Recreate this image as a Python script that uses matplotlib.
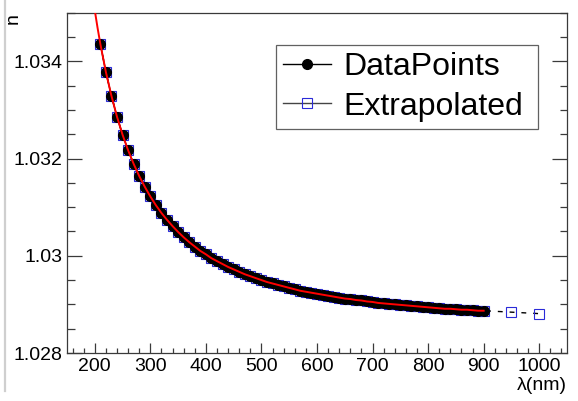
import matplotlib
matplotlib.use("Agg")
import matplotlib.pyplot as plt
from matplotlib.lines import Line2D
from matplotlib.ticker import MultipleLocator, FixedLocator

plt.rcParams['font.family'] = ['Liberation Sans', 'DejaVu Sans']

# --- data ---
wavelength = [210, 220, 230, 240, 250, 260, 270, 280, 290, 300,
              310, 320, 330, 340, 350, 360, 370, 380, 390, 400,
              410, 420, 430, 440, 450, 460, 470, 480, 490, 500,
              510, 520, 530, 540, 550, 560, 570, 580, 590, 600,
              610, 620, 630, 640, 650, 660, 670, 680, 690, 700,
              710, 720, 730, 740, 750, 760, 770, 780, 790, 800,
              810, 820, 830, 840, 850, 860, 870, 880, 890, 900]
index_n = [1.03436, 1.03378, 1.03329, 1.03286, 1.03249, 1.03217, 1.03189, 1.03164, 1.03142, 1.03122,
           1.03104, 1.03088, 1.03074, 1.03061, 1.03049, 1.03038, 1.03028, 1.03019, 1.03010, 1.03003,
           1.02995, 1.02989, 1.02983, 1.02977, 1.02972, 1.02967, 1.02962, 1.02958, 1.02954, 1.02950,
           1.02946, 1.02943, 1.02940, 1.02937, 1.02934, 1.02931, 1.02928, 1.02926, 1.02924, 1.02922,
           1.02920, 1.02918, 1.02916, 1.02914, 1.02912, 1.02911, 1.02909, 1.02908, 1.02906, 1.02905,
           1.02903, 1.02902, 1.02901, 1.02900, 1.02899, 1.02898, 1.02897, 1.02896, 1.02895, 1.02894,
           1.02893, 1.02892, 1.02891, 1.02891, 1.02890, 1.02889, 1.02889, 1.02888, 1.02887, 1.02887]

extra_wl = [950, 1000]
extra_n = [1.02884, 1.02881]

fit_start_wl = [200, 205]
fit_start_n = [1.03505, 1.03469]

y_ticks = [1.028, 1.030, 1.032, 1.034]
y_ticklabels = ['1.028', '1.03', '1.032', '1.034']
x_ticks = [200, 300, 400, 500, 600, 700, 800, 900, 1000]

BLUE = '#2a2ad8'
FRAME = '#3a3a3a'

fig = plt.figure(figsize=(5.78, 4.01), dpi=100)
ax = fig.add_axes([0.1159, 0.1197, 0.8651, 0.8486])

# extrapolated graph (drawn first so circles sit on top)
ax.plot(wavelength + extra_wl, index_n + extra_n, color='black', lw=1.0,
        ls=(0, (3.5, 5)), marker='s', ms=7.4, mfc='none', mec=BLUE, mew=0.8,
        zorder=2)
# measured points
ax.plot(wavelength, index_n, color='black', lw=1.0, marker='o', ms=7.0,
        mfc='black', mec='black', zorder=3)
# fit
ax.plot(fit_start_wl + wavelength, fit_start_n + index_n, color='red',
        lw=1.4, zorder=4)

ax.set_xlim(150, 1050)
ax.set_ylim(1.028, 1.035)

ax.xaxis.set_major_locator(FixedLocator(x_ticks))
ax.xaxis.set_minor_locator(MultipleLocator(20))
ax.set_yticks(y_ticks)
ax.set_yticklabels(y_ticklabels)
ax.yaxis.set_minor_locator(MultipleLocator(0.0005))

ax.tick_params(axis='both', which='both', direction='in', colors=FRAME,
               labelcolor='black', labelsize=14, width=0.9)
ax.tick_params(axis='x', which='major', length=7.2, pad=3.5, top=False)
ax.tick_params(axis='x', which='minor', length=3.6, top=False)
ax.tick_params(axis='y', which='major', length=10.8, pad=3.5, right=True)
ax.tick_params(axis='y', which='minor', length=5.4, right=True)

for sp in ax.spines.values():
    sp.set_color(FRAME)
    sp.set_linewidth(0.9)

# axis titles, ROOT style
fig.text(0.980, 0.038, 'λ(nm)', ha='right', va='center', fontsize=14)
fig.text(0.023, 0.968, 'n', ha='center', va='top', rotation=90, fontsize=14)

# legend
handles = [
    Line2D([], [], color='black', lw=1.0, marker='o', ms=7.0, mfc='black', mec='black'),
    Line2D([], [], color='#444444', lw=1.0, marker='s', ms=7.4, mfc='none', mec=BLUE, mew=0.8),
]
leg = ax.legend(handles, ['DataPoints', 'Extrapolated'], loc='upper left',
                bbox_to_anchor=(0.418, 0.652, 0.524, 0.253), mode='expand',
                borderaxespad=0, fontsize=23, frameon=True, fancybox=False,
                handlelength=1.5, handletextpad=0.4, borderpad=0.22,
                labelspacing=0.3)
leg.get_frame().set_edgecolor(FRAME)
leg.get_frame().set_linewidth(0.9)

# thin grey border on the left of the canvas
fig.add_artist(Line2D([0.009, 0.009], [0.025, 1.0], color='#cfcfcf', lw=1.6,
                      transform=fig.transFigure))

fig.savefig('out.png', dpi=100)
